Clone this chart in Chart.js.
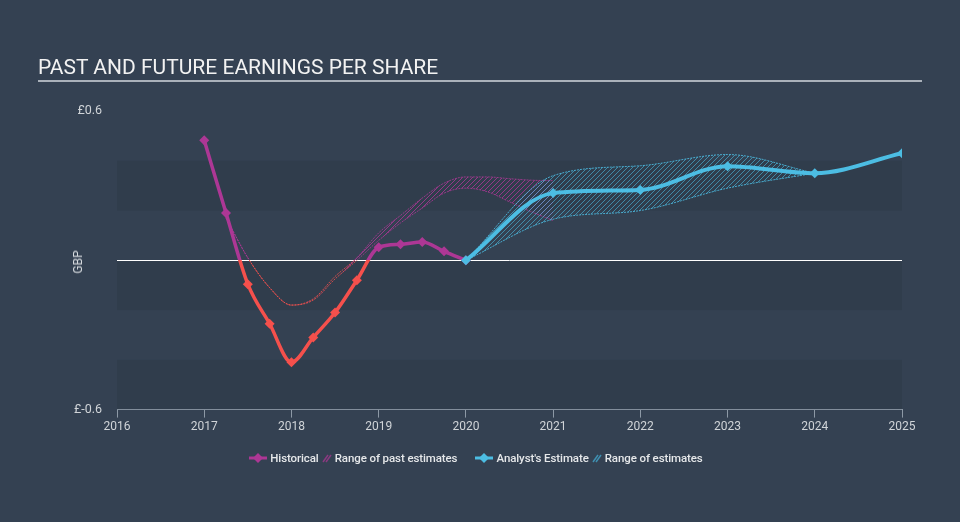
<!DOCTYPE html>
<html>
<head>
<meta charset="utf-8">
<script src="https://cdn.jsdelivr.net/npm/chart.js@4/dist/chart.umd.min.js"></script>
<style>
  html, body { margin: 0; padding: 0; background: #344152; }
  #wrap { position: relative; width: 960px; height: 522px; background: #344152; overflow: hidden; font-family: Roboto, "Noto Sans", sans-serif; }
  #c { position: absolute; left: 0; top: 0; }
  #title { position: absolute; left: 38px; top: 55px; font-size: 21px; color: #f2f2f2; white-space: nowrap; }
  #rule { position: absolute; left: 38px; top: 80px; width: 884px; height: 2px; background: #aab1ba; }
  #gbp { position: absolute; left: 78px; top: 262px; transform: translate(-50%, -50%) rotate(-90deg); font-size: 12px; color: #d8dce0; }
  #legend { position: absolute; left: -4px; top: 451px; width: 960px; display: flex; justify-content: center; font-size: 11.5px; font-weight: 500; color: #e6e8ea; align-items: center; letter-spacing: -0.1px; }
  .item { display: flex; align-items: center; white-space: nowrap; }
  .item svg { margin-right: 3px; }
  .gap { width: 18px; }
</style>
</head>
<body>
<div id="wrap">
  <canvas id="c" width="960" height="522"></canvas>
  <div id="title">PAST AND FUTURE EARNINGS PER SHARE</div>
  <div id="rule"></div>
  <div id="gbp">GBP</div>
  <div id="legend">
    <div class="item"><svg width="18" height="12"><line x1="0" y1="6" x2="18" y2="6" stroke="#ad3795" stroke-width="3"/><polygon points="9,1 14,6 9,11 4,6" fill="#ad3795"/></svg><span>Historical</span></div>
    <div class="item" style="margin-left:3px"><svg width="10" height="12"><line x1="1" y1="10" x2="6" y2="3" stroke="#8a3a80" stroke-width="1.5"/><line x1="4" y1="10" x2="9" y2="3" stroke="#8a3a80" stroke-width="1.5"/></svg><span>Range of past estimates</span></div>
    <div class="gap"></div>
    <div class="item"><svg width="18" height="12"><line x1="0" y1="6" x2="18" y2="6" stroke="#4cbde3" stroke-width="3"/><polygon points="9,1 14,6 9,11 4,6" fill="#4cbde3"/></svg><span>Analyst's Estimate</span></div>
    <div class="item" style="margin-left:3px"><svg width="10" height="12"><line x1="1" y1="10" x2="6" y2="3" stroke="#3f8fb0" stroke-width="1.5"/><line x1="4" y1="10" x2="9" y2="3" stroke="#3f8fb0" stroke-width="1.5"/></svg><span>Range of estimates</span></div>
  </div>
</div>
<script>
// ---- Data ----
const xTickYears = [2016, 2017, 2018, 2019, 2020, 2021, 2022, 2023, 2024, 2025];
const yTickValues = [-0.6, 0.6];

const histDates = [2017.0, 2017.25, 2017.5, 2017.75, 2018.0, 2018.25, 2018.5, 2018.75, 2019.0, 2019.25, 2019.5, 2019.75, 2020.0];
const histEps   = [0.482, 0.19, -0.096, -0.255, -0.41, -0.31, -0.21, -0.08, 0.052, 0.064, 0.074, 0.036, 0.0];

const pastRangeDates = [2017.25, 2017.5, 2017.75, 2018.0, 2018.25, 2018.5, 2018.75, 2019.0, 2019.25, 2019.5, 2019.75, 2020.0, 2020.25, 2020.5, 2020.75, 2021.0];
const pastRangeLow   = [0.17, 0.01, -0.11, -0.18, -0.16, -0.075, 0.0, 0.08, 0.15, 0.21, 0.27, 0.29, 0.275, 0.235, 0.195, 0.16];
const pastRangeHigh  = [0.17, 0.01, -0.11, -0.18, -0.155, -0.065, 0.01, 0.11, 0.18, 0.25, 0.31, 0.335, 0.335, 0.328, 0.322, 0.32];

const estDates = [2020, 2021, 2022, 2023, 2024, 2025];
const estEps   = [0.0, 0.27, 0.283, 0.378, 0.35, 0.43];

const estRangeDates = [2020, 2021, 2022, 2023, 2024];
const estRangeLow   = [0.0, 0.165, 0.2, 0.29, 0.35];
const estRangeHigh  = [0.0, 0.34, 0.38, 0.425, 0.35];

// ---- Styling ----
const MAG = '#ad3795';
const RED = '#f5504c';
const BLUE = '#4cbde3';

function pts(xs, ys) { return xs.map((x, i) => ({ x: x, y: ys[i] })); }

function hatch(color) {
  const s = 5;
  const c = document.createElement('canvas');
  c.width = s; c.height = s;
  const g = c.getContext('2d');
  g.strokeStyle = color;
  g.lineWidth = 1;
  g.beginPath();
  g.moveTo(0, s); g.lineTo(s, 0);
  g.moveTo(-1, 1); g.lineTo(1, -1);
  g.moveTo(s - 1, s + 1); g.lineTo(s + 1, s - 1);
  g.stroke();
  return document.createElement('canvas').getContext('2d').createPattern(c, 'repeat');
}

function splitColor(ctx, above, below) {
  const chart = ctx.chart;
  const area = chart.chartArea;
  if (!area) return above;
  const y0 = chart.scales.y.getPixelForValue(0);
  const grad = chart.ctx.createLinearGradient(0, area.top, 0, area.bottom);
  let stop = (y0 - area.top) / (area.bottom - area.top);
  stop = Math.min(1, Math.max(0, stop));
  grad.addColorStop(0, above);
  grad.addColorStop(stop, above);
  grad.addColorStop(stop, below);
  grad.addColorStop(1, below);
  return grad;
}

const bandsPlugin = {
  id: 'bands',
  beforeDatasetsDraw(chart) {
    const { ctx, chartArea, scales } = chart;
    const y = scales.y;
    const darkBands = [[0.2, 0.4], [-0.2, 0.0], [-0.6, -0.4]];
    ctx.save();
    ctx.fillStyle = 'rgba(28,38,50,0.15)';
    darkBands.forEach(b => {
      const t = y.getPixelForValue(b[1]);
      const btm = y.getPixelForValue(b[0]);
      ctx.fillRect(chartArea.left, t, chartArea.right - chartArea.left, btm - t);
    });
    const z = Math.round(y.getPixelForValue(0)) + 0.5;
    ctx.strokeStyle = '#ffffff';
    ctx.lineWidth = 1;
    ctx.beginPath();
    ctx.moveTo(chartArea.left, z);
    ctx.lineTo(chartArea.right, z);
    ctx.stroke();
    ctx.restore();
  }
};

const magHatch = hatch('rgba(173,55,149,0.8)');
const blueHatch = hatch('rgba(76,189,227,0.6)');

new Chart(document.getElementById('c'), {
  type: 'line',
  data: {
    datasets: [
      {
        label: 'pastLow', data: pts(pastRangeDates, pastRangeLow),
        borderColor: (c) => splitColor(c, 'rgba(173,55,149,0.8)', 'rgba(245,80,76,0.8)'),
        borderWidth: 1, borderDash: [2, 1], pointRadius: 0, fill: false,
        cubicInterpolationMode: 'monotone', order: 5
      },
      {
        label: 'pastHigh', data: pts(pastRangeDates, pastRangeHigh),
        borderColor: (c) => splitColor(c, 'rgba(173,55,149,0.8)', 'rgba(245,80,76,0.8)'),
        borderWidth: 1, borderDash: [2, 1], pointRadius: 0,
        fill: { target: 0 }, backgroundColor: magHatch,
        cubicInterpolationMode: 'monotone', order: 5
      },
      {
        label: 'estLow', data: pts(estRangeDates, estRangeLow),
        borderColor: 'rgba(76,189,227,0.85)', borderWidth: 1, borderDash: [2, 1], pointRadius: 0, fill: false,
        cubicInterpolationMode: 'monotone', order: 4
      },
      {
        label: 'estHigh', data: pts(estRangeDates, estRangeHigh),
        borderColor: 'rgba(76,189,227,0.85)', borderWidth: 1, borderDash: [2, 1], pointRadius: 0,
        fill: { target: 2 }, backgroundColor: blueHatch,
        cubicInterpolationMode: 'monotone', order: 4
      },
      {
        label: 'Historical', data: pts(histDates, histEps),
        borderColor: (c) => splitColor(c, MAG, RED),
        borderWidth: 3.5,
        pointStyle: 'rectRot', pointRadius: 5, pointBorderWidth: 0,
        pointBackgroundColor: histEps.map(v => v < 0 ? RED : MAG),
        fill: false, cubicInterpolationMode: 'monotone', order: 2
      },
      {
        label: "Analyst's Estimate", data: pts(estDates, estEps),
        borderColor: BLUE, borderWidth: 4,
        pointStyle: 'rectRot', pointRadius: 5, pointBorderWidth: 0,
        pointBackgroundColor: BLUE,
        fill: false, cubicInterpolationMode: 'monotone', order: 1
      }
    ]
  },
  options: {
    responsive: false,
    animation: false,
    layout: { padding: { left: 0, right: 58, top: 111, bottom: 86 } },
    plugins: { legend: { display: false }, tooltip: { enabled: false }, title: { display: false } },
    scales: {
      x: {
        type: 'linear', min: 2016, max: 2025,
        afterBuildTicks: (s) => { s.ticks = xTickYears.map(v => ({ value: v })); },
        grid: { drawOnChartArea: false, drawTicks: true, tickLength: 8, color: '#8d99a6' },
        border: { display: true, color: '#8d99a6', width: 1 },
        ticks: { color: '#d0d4d8', font: { family: 'Roboto', size: 12 }, padding: 2, maxRotation: 0, autoSkip: false,
          callback: (v) => String(v) }
      },
      y: {
        type: 'linear', min: -0.6, max: 0.6,
        afterBuildTicks: (s) => { s.ticks = yTickValues.map(v => ({ value: v })); },
        afterFit: (s) => { s.width = 117; },
        grid: { display: false, drawTicks: false },
        border: { display: false },
        ticks: { color: '#d0d4d8', font: { family: 'Roboto', size: 12.5 }, padding: 15,
          callback: (v) => '£' + Number(v).toFixed(1) }
      }
    }
  },
  plugins: [bandsPlugin]
});
</script>
</body>
</html>
